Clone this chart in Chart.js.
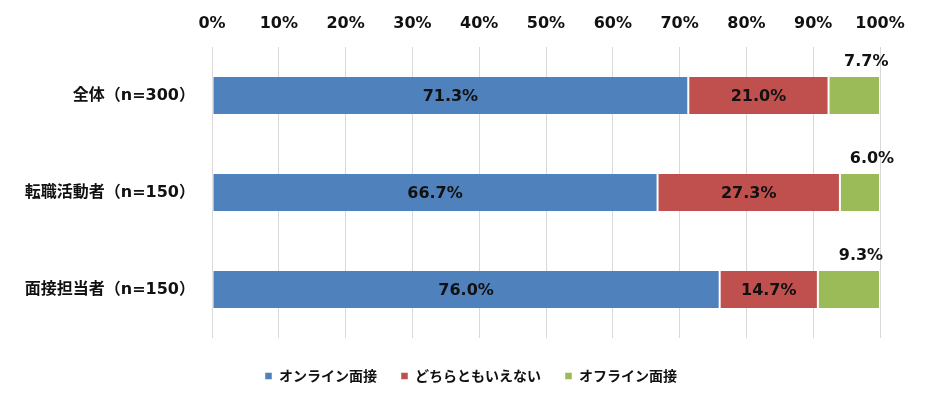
<!DOCTYPE html>
<html>
<head>
<meta charset="utf-8">
<script src="https://cdn.jsdelivr.net/npm/chart.js@4"></script>
<style>
  body { margin: 0; background: #fff; }
  #wrap { width: 928px; height: 399px; }
</style>
</head>
<body>
<div id="wrap"><canvas id="myChart"></canvas></div>
<script>
const categories = ["全体（n=300）", "転職活動者（n=150）", "面接担当者（n=150）"];
const seriesNames = ["オンライン面接", "どちらともいえない", "オフライン面接"];
const online = [71.3, 66.7, 76.0];
const neutral = [21.0, 27.3, 14.7];
const offline = [7.7, 6.0, 9.3];
const tickLabels = ["0%", "10%", "20%", "30%", "40%", "50%", "60%", "70%", "80%", "90%", "100%"];

const FONT = '"DejaVu Sans", "Noto Sans CJK JP", sans-serif';
const CJK = '"Noto Sans CJK JP", "DejaVu Sans", sans-serif';

//value labels
const valueLabels = {
  id: "valueLabels",
  afterDatasetsDraw(chart) {
    const ctx = chart.ctx;
    ctx.save();
    ctx.font = "bold 16px " + FONT;
    ctx.fillStyle = "#111";
    ctx.textAlign = "center";
    ctx.textBaseline = "middle";
    chart.data.datasets.forEach((ds, i) => {
      chart.getDatasetMeta(i).data.forEach((bar, j) => {
        const text = ds.data[j].toFixed(1) + "%";
        const cx = (bar.x + bar.base) / 2;
        if (i < 2) {
          ctx.fillText(text, cx, bar.y + 1);
        } else {
          ctx.fillText(text, cx + 12, bar.y - bar.height / 2 - 15);
        }
      });
    });
    ctx.restore();
  },
};

//nudge legend a bit to the right (centred under whole page, not plot)
const legendShift = {
  id: "legendShift",
  afterLayout(chart) {
    chart.legend.left += 31;
    chart.legend.right += 31;
  },
};

const ctx = document.getElementById("myChart");
new Chart(ctx, {
  type: "bar",
  data: {
    labels: categories,
    datasets: [
      { label: seriesNames[0], data: online, backgroundColor: "#4F81BD" },
      { label: seriesNames[1], data: neutral, backgroundColor: "#C0504D" },
      { label: seriesNames[2], data: offline, backgroundColor: "#9BBB59" },
    ].map((d) => ({
      ...d,
      borderColor: "#fff",
      borderWidth: { left: 1, right: 1, top: 0, bottom: 0 },
      borderSkipped: false,
      categoryPercentage: 1,
      barPercentage: 0.38,
    })),
  },
  options: {
    indexAxis: "y",
    responsive: true,
    maintainAspectRatio: false,
    animation: false,
    layout: { padding: { left: 0, right: 48, top: 0, bottom: 6 } },
    scales: {
      x: {
        position: "top",
        stacked: true,
        min: 0,
        max: 100,
        ticks: {
          stepSize: 10,
          padding: 14,
          color: "#111",
          font: { family: FONT, size: 16, weight: "bold" },
          callback: (v, i) => tickLabels[i],
        },
        grid: { color: "#d9d9d9", drawTicks: false },
        border: { display: false },
        afterFit: (s) => { s.height = 47; },
      },
      x2: {
        type: "linear",
        position: "bottom",
        display: true,
        ticks: { display: false },
        grid: { display: false },
        border: { display: false },
        afterFit: (s) => { s.height = 7; },
      },
      y: {
        stacked: true,
        ticks: {
          padding: 17,
          color: "#111",
          font: { family: FONT, size: 16, weight: "bold" },
        },
        grid: { display: false, drawTicks: false },
        border: { display: false },
        afterFit: (s) => { s.width = 212; },
      },
    },
    plugins: {
      legend: {
        position: "bottom",
        labels: {
          boxWidth: 7,
          boxHeight: 7,
          padding: 24,
          color: "#111",
          font: { family: CJK, size: 14, weight: "bold" },
        },
      },
      tooltip: { enabled: false },
    },
  },
  plugins: [valueLabels, legendShift],
});
</script>
</body>
</html>
